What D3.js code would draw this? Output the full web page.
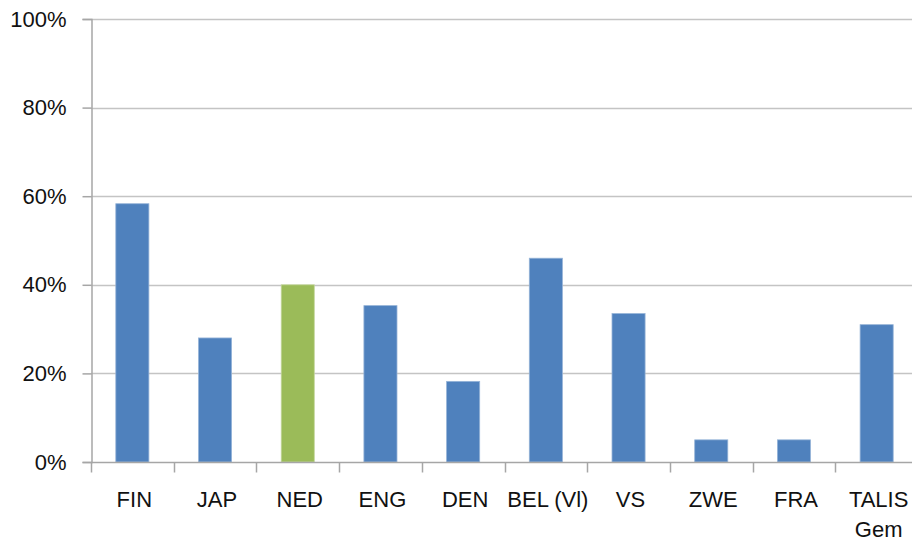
<!DOCTYPE html>
<html>
<head>
<meta charset="utf-8">
<script src="https://cdn.jsdelivr.net/npm/d3@7"></script>
<style>
  body { margin: 0; background: #fff; }
  svg text { font-family: "Liberation Sans", Arial, sans-serif; fill: #111; }
</style>
</head>
<body>
<div id="chart"></div>
<script>
// country codes, shares
var countries = ["FIN", "JAP", "NED", "ENG", "DEN", "BEL (Vl)", "VS", "ZWE", "FRA", "TALIS Gem"];
var values = [0.583, 0.28, 0.40, 0.353, 0.182, 0.46, 0.335, 0.05, 0.05, 0.31];
var highlight = ["NED"];
var yTicks = [0, 0.2, 0.4, 0.6, 0.8, 1.0];

var width = 912, height = 540;
var margin = { top: 19, right: -6, bottom: 78, left: 91 };

var svg = d3.select("#chart").append("svg")
    .attr("width", width)
    .attr("height", height);

var x = d3.scaleBand()
    .domain(countries)
    .range([margin.left, width - margin.right]);

var y = d3.scaleLinear()
    .domain([0, 1])
    .range([height - margin.bottom, margin.top]);

// gridlines
svg.append("g")
    .selectAll("line")
    .data(yTicks.slice(1))
    .enter().append("line")
    .attr("x1", margin.left)
    .attr("x2", width)
    .attr("y1", function(d) { return Math.round(y(d)) + 0.5; })
    .attr("y2", function(d) { return Math.round(y(d)) + 0.5; })
    .attr("stroke", "#c4c4c4")
    .attr("stroke-width", 1.5);

// bars
var barW = x.bandwidth() * 0.4;
svg.append("g")
    .selectAll("rect")
    .data(countries)
    .enter().append("rect")
    .attr("x", function(d) { return x(d) + (x.bandwidth() - barW) / 2; })
    .attr("y", function(d, i) { return y(values[i]); })
    .attr("width", barW)
    .attr("height", function(d, i) { return y(0) - y(values[i]); })
    .attr("fill", function(d) { return highlight.indexOf(d) >= 0 ? "#9bbb59" : "#4f81bd"; })
    .attr("stroke", function(d) { return highlight.indexOf(d) >= 0 ? "#c3d69b" : "#95b3d7"; })
    .attr("stroke-width", 0.8);

// y axis
var yAxis = d3.axisLeft(y)
    .tickValues(yTicks)
    .tickSize(9)
    .tickPadding(16)
    .tickFormat(d3.format(".0%"));

var gy = svg.append("g")
    .attr("transform", "translate(" + (margin.left + 0.5) + ",0)")
    .call(yAxis);
gy.select(".domain").attr("stroke", "#a6a6a6").attr("stroke-width", 1.5);
gy.selectAll(".tick line").attr("stroke", "#a6a6a6").attr("stroke-width", 1.5);
gy.selectAll(".tick text").attr("font-size", 22).attr("fill", "#111");

// x axis: ticks at band boundaries
var y0 = Math.round(y(0)) + 0.5;
svg.append("line")
    .attr("x1", margin.left).attr("x2", width)
    .attr("y1", y0).attr("y2", y0)
    .attr("stroke", "#a6a6a6").attr("stroke-width", 1.5);

svg.append("g")
    .selectAll("line")
    .data(countries)
    .enter().append("line")
    .attr("x1", function(d) { return Math.round(x(d)) + 0.5; })
    .attr("x2", function(d) { return Math.round(x(d)) + 0.5; })
    .attr("y1", y0)
    .attr("y2", y0 + 10)
    .attr("stroke", "#a6a6a6")
    .attr("stroke-width", 1.5);

var labels = svg.append("g")
    .selectAll("text")
    .data(countries)
    .enter().append("text")
    .attr("text-anchor", "middle")
    .attr("font-size", 22)
    .attr("x", function(d) { return x(d) + x.bandwidth() / 2 + 2; })
    .attr("y", y0 + 44);

labels.each(function(d) {
    var t = d3.select(this);
    var parts = d === "TALIS Gem" ? ["TALIS", "Gem"] : [d];
    parts.forEach(function(p, i) {
        t.append("tspan")
            .attr("x", t.attr("x"))
            .attr("dy", i === 0 ? 0 : 30)
            .text(p);
    });
});
</script>
</body>
</html>
